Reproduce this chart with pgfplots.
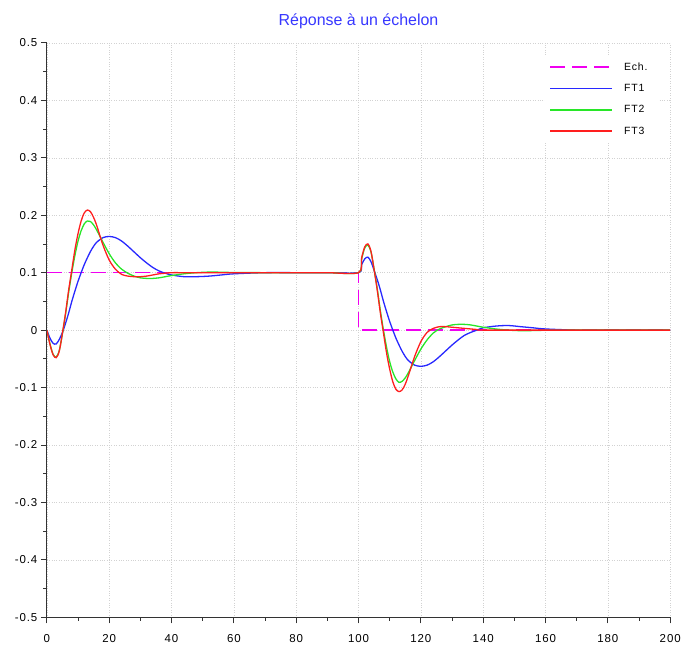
\documentclass[border=0pt]{standalone}
\usepackage{pgfplots}
\pgfplotsset{compat=1.18}
\usepackage{fontspec}
\setmainfont{Liberation Sans}
\newfontfamily\spfont[LetterSpace=8]{Liberation Sans}
\newfontfamily\ttlfont[Color=3737FF]{Liberation Sans}
\definecolor{cblue}{RGB}{40,40,255}
\definecolor{cgreen}{RGB}{40,230,40}
\definecolor{cred}{RGB}{255,30,30}
\definecolor{cmag}{RGB}{240,0,240}
\begin{document}
\begin{tikzpicture}
\begin{axis}[
  scale only axis, width=625pt, height=576pt,
  xmin=0, xmax=200, ymin=-0.5, ymax=0.5,
  axis lines=left, axis line style={-, black!80, line width=0.8pt},
  xtick={0,20,...,200},
  ytick={-0.5,-0.4,-0.3,-0.2,-0.1,0,0.1,0.2,0.3,0.4,0.5},
  yticklabels={-0.5,-0.4,-0.3,-0.2,-0.1,0,0.1,0.2,0.3,0.4,0.5},
  minor x tick num=1, minor y tick num=1,
  tick align=outside, major tick length=6pt, minor tick length=3.5pt,
  tick style={black!80, line width=0.8pt},
  grid=major, major grid style={dotted, gray!35, line width=0.5pt},
  /pgf/number format/assume math mode=true,
  tick label style={font=\spfont\fontsize{11.5}{13}\selectfont},
  xticklabel style={yshift=-8pt},
  title={Réponse à un échelon},
  title style={font=\ttlfont\fontsize{16}{18}\selectfont, at={(0.5,1)}, anchor=center, yshift=16pt},
  legend style={draw=none, fill=white, at={(rel axis cs:0.98,0.978)}, anchor=north east,
    font=\spfont\fontsize{10.5}{12}\selectfont, row sep=8.5pt, inner sep=5pt,
    cells={anchor=west}, nodes={inner xsep=5pt}},
  legend image code/.code={\draw[#1] (0pt,0pt) -- (62pt,0pt); \path (68pt,0pt);},
]
\addplot[forget plot, draw=cmag, line width=1.3pt, dash pattern=on 15pt off 7pt] coordinates {(0,0.1) (100,0.1) (100,0) (200,0)};
\addplot[forget plot, draw=cblue, line width=1.3pt, smooth] coordinates {
(0,0) (1,-0.014) (2,-0.023) (3,-0.024) (4,-0.016) (5,-0.004) (6,0.012) (7,0.03) (8,0.05) (9,0.068) (10,0.085) (11,0.1) (12,0.114) (13,0.126) (14,0.137) (15,0.146) (16,0.153) (18,0.161) (20,0.163) (22,0.161) (24,0.155) (26,0.146) (28,0.136) (30,0.126) (32,0.117) (34,0.109) (36,0.103) (38,0.099) (40,0.096) (44,0.093) (48,0.093) (52,0.094) (56,0.096) (60,0.098) (70,0.1) (80,0.1) (90,0.1) (100,0.1)
(101,0.114) (102,0.124) (103,0.127) (104,0.119) (105,0.104) (106,0.088) (107,0.07) (108,0.05) (109,0.032) (110,0.015) (111,0) (112,-0.014) (113,-0.026) (114,-0.037) (115,-0.046) (116,-0.053) (118,-0.061) (120,-0.063) (122,-0.061) (124,-0.055) (126,-0.046) (128,-0.036) (130,-0.026) (132,-0.017) (134,-0.009) (136,-0.004) (138,0) (140,0.004) (144,0.007) (148,0.008) (152,0.006) (156,0.004) (160,0.002) (170,0) (180,0) (200,0)};
\addplot[forget plot, draw=cgreen, line width=1.3pt, smooth] coordinates {
(0,0) (1,-0.024) (2,-0.042) (3,-0.047) (4,-0.035) (5,-0.006) (6,0.028) (7,0.066) (8,0.1) (9,0.13) (10,0.155) (11,0.173) (12,0.185) (13,0.19) (14,0.189) (15,0.183) (16,0.174) (18,0.153) (20,0.133) (22,0.117) (24,0.106) (26,0.099) (28,0.094) (30,0.091) (32,0.09) (34,0.09) (36,0.091) (38,0.093) (40,0.095) (44,0.098) (48,0.1) (52,0.101) (56,0.1008) (60,0.1003) (70,0.1) (80,0.1) (90,0.1) (100,0.1)
(101,0.124) (102,0.143) (103,0.148) (104,0.136) (105,0.106) (106,0.072) (107,0.034) (108,0) (109,-0.03) (110,-0.055) (111,-0.073) (112,-0.085) (113,-0.091) (114,-0.089) (115,-0.083) (116,-0.074) (118,-0.053) (120,-0.033) (122,-0.017) (124,-0.005) (126,0.002) (128,0.006) (130,0.009) (132,0.01) (134,0.01) (136,0.009) (138,0.007) (140,0.005) (144,0.002) (148,0) (152,-0.001) (156,-0.0008) (160,-0.0003) (170,0) (180,0) (200,0)};
\addplot[forget plot, draw=cred, line width=1.3pt, smooth] coordinates {
(0,0) (1,-0.025) (2,-0.043) (3,-0.048) (4,-0.036) (5,-0.005) (6,0.03) (7,0.07) (8,0.105) (9,0.14) (10,0.168) (11,0.19) (12,0.204) (13,0.209) (14,0.206) (15,0.196) (16,0.182) (18,0.148) (20,0.122) (22,0.106) (24,0.097) (26,0.094) (28,0.093) (30,0.093) (32,0.094) (34,0.096) (36,0.098) (38,0.099) (40,0.1) (44,0.1) (60,0.1) (80,0.1) (90,0.1) (100,0.1)
(101,0.126) (102,0.145) (103,0.15) (104,0.137) (105,0.105) (106,0.07) (107,0.03) (108,-0.005) (109,-0.04) (110,-0.068) (111,-0.09) (112,-0.103) (113,-0.107) (114,-0.104) (115,-0.094) (116,-0.079) (118,-0.046) (120,-0.02) (122,-0.004) (124,0.003) (126,0.006) (128,0.006) (130,0.005) (132,0.004) (134,0.003) (136,0.002) (138,0.001) (140,0) (160,0) (200,0)};
\addlegendimage{draw=cmag, line width=1.6pt, dash pattern=on 15pt off 7pt}
\addlegendentry{Ech.}
\addlegendimage{draw=cblue, line width=1.6pt}
\addlegendentry{FT1}
\addlegendimage{draw=cgreen, line width=1.6pt}
\addlegendentry{FT2}
\addlegendimage{draw=cred, line width=1.6pt}
\addlegendentry{FT3}
\end{axis}
\path ([shift={(-47pt,-30pt)}]current axis.south west) rectangle ([shift={(12pt,43pt)}]current axis.north east);
\end{tikzpicture}
\end{document}
